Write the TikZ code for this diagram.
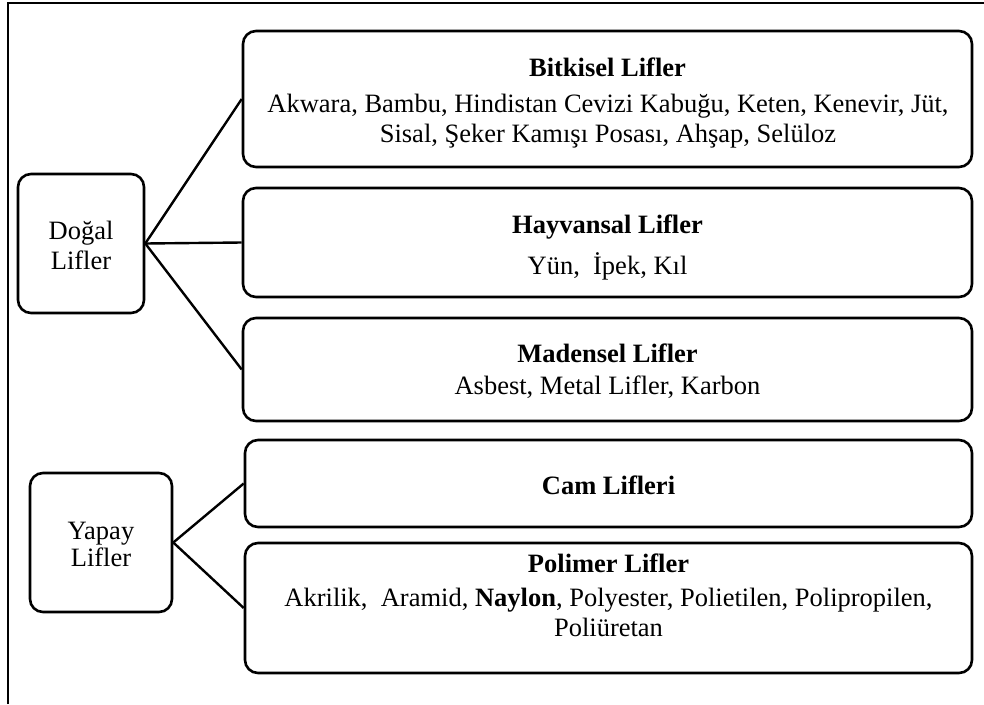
\documentclass[tikz,border=0pt]{standalone}
\usepackage{fontspec}
\setmainfont{Liberation Serif}
\begin{document}
\begin{tikzpicture}[x=1pt,y=-1pt,
  box/.style={draw=black, line width=2.6pt, rounded corners=13pt, inner sep=0pt},
  conn/.style={draw=black, line width=2.4pt},
  txt/.style={anchor=base, inner sep=0pt, font=\fontsize{26.5}{30}\selectfont},
  ttl/.style={txt, font=\fontsize{26.5}{30}\selectfont\bfseries}]
\useasboundingbox (0,0) rectangle (984,704);
\fill[white] (0,0) rectangle (984,704);
\draw[line width=1.4pt] (8,704) -- (8,3) -- (984,3);
% boxes
\node[box, minimum width=729pt, minimum height=136pt] (bit) at (607.5,99) {};
\node[box, minimum width=729pt, minimum height=109pt] (hay) at (607.5,242.5) {};
\node[box, minimum width=729pt, minimum height=103pt] (mad) at (607.5,369.5) {};
\node[box, minimum width=727pt, minimum height=87pt] (cam) at (608.5,483.5) {};
\node[box, minimum width=727pt, minimum height=130pt] (pol) at (608.5,608) {};
\node[box, minimum width=126pt, minimum height=139pt] (dog) at (81,243.5) {};
\node[box, minimum width=142pt, minimum height=139pt] (yap) at (101,542.5) {};
% connectors
\draw[conn] (dog.east) -- (bit.west);
\draw[conn] (dog.east) -- (hay.west);
\draw[conn] (dog.east) -- (mad.west);
\draw[conn] (yap.east) -- (cam.west);
\draw[conn] (yap.east) -- (pol.west);
% texts
\node[txt] (dogA) at (81,239) {Doğal};
\node[txt] (dogB) at (81,269) {Lifler};
\node[txt] (yapA) at (101,539) {Yapay};
\node[txt] (yapB) at (101,566) {Lifler};
\node[ttl] (bitT) at (607.5,76) {Bitkisel Lifler};
\node[txt] (bitA) at (608,112) {Akwara, Bambu, Hindistan Cevizi Kabuğu, Keten, Kenevir, Jüt,};
\node[txt] (bitB) at (608,142) {Sisal, Şeker Kamışı Posası, Ahşap, Selüloz};
\node[ttl] (hayT) at (607.5,233) {Hayvansal Lifler};
\node[txt] (hayA) at (607.5,274) {Yün,\ \ İpek, Kıl};
\node[ttl] (madT) at (607.5,362) {Madensel Lifler};
\node[txt] (madA) at (607.5,394) {Asbest, Metal Lifler, Karbon};
\node[ttl] (camT) at (608.5,494) {Cam Lifleri};
\node[ttl] (polT) at (608.5,572) {Polimer Lifler};
\node[txt] (polA) at (608.5,606) {Akrilik,\ \ Aramid, \textbf{Naylon}, Polyester, Polietilen, Polipropilen,};
\node[txt] (polB) at (608.5,636) {Poliüretan};
\end{tikzpicture}
\end{document}
